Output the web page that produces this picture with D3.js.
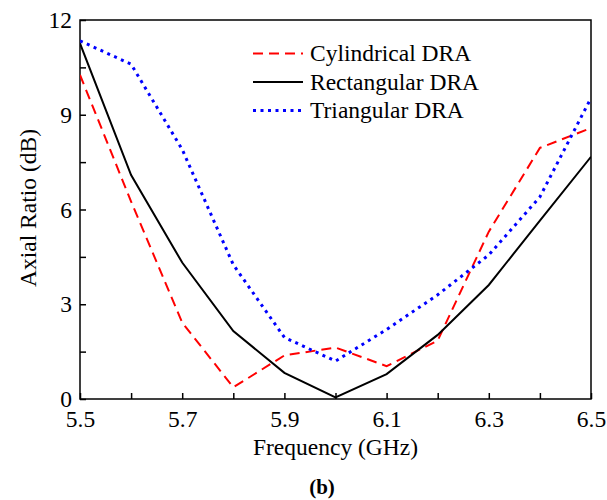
<!DOCTYPE html>
<html><head><meta charset="utf-8">
<script src="https://cdn.jsdelivr.net/npm/d3@7/dist/d3.min.js"></script>
<style>body{margin:0;background:#fff;}svg{display:block;}</style>
</head><body><svg id="c" width="607" height="500"></svg>
<script>
const freqs = [5.5,5.6,5.7,5.8,5.9,6.0,6.1,6.2,6.3,6.4,6.5];
const cylindrical = [10.26,6.25,2.42,0.37,1.38,1.63,1.04,1.85,5.3,7.95,8.58];
const rectangular = [11.26,7.09,4.32,2.15,0.83,0.05,0.79,2.03,3.61,5.65,7.67];
const triangular = [11.34,10.6,7.9,4.25,1.95,1.2,2.2,3.3,4.56,6.4,9.53];
const seriesNames = ["Cylindrical DRA","Rectangular DRA","Triangular DRA"];
const xTicks = [5.5,5.7,5.9,6.1,6.3,6.5];
const yTicks = [0,3,6,9,12];

const svg = d3.select("#c");
const L=80,R=591,T=20,B=399;
const x = d3.scaleLinear().domain([5.5,6.5]).range([L,R]);
const y = d3.scaleLinear().domain([0,12]).range([B,T]);
const font = '"Liberation Serif", "Times New Roman", serif';
const fs = "23.5px";

// frame
svg.append("rect").attr("x",L).attr("y",T).attr("width",R-L).attr("height",B-T)
  .attr("fill","none").attr("stroke","#000").attr("stroke-width",1.5);

// x axis
const xAxis = d3.axisBottom(x).tickValues(d3.range(5.5,6.501,0.1)).tickSize(-6).tickPadding(11)
  .tickFormat(d=> xTicks.some(t=>Math.abs(t-d)<1e-6) ? d3.format(".1f")(d) : "");
const gx = svg.append("g").attr("transform",`translate(0,${B})`).call(xAxis);
gx.select(".domain").remove();
gx.selectAll("line").attr("stroke","#000").attr("stroke-width",1.5);
gx.selectAll("text").style("font-family",font).style("font-size",fs).attr("fill","#000");

const yAxis = d3.axisLeft(y).tickValues(d3.range(0,12.01,1.5)).tickSize(-6).tickPadding(8)
  .tickFormat(d=> yTicks.includes(d) ? d : "");
const gy = svg.append("g").attr("transform",`translate(${L},0)`).call(yAxis);
gy.select(".domain").remove();
gy.selectAll("line").attr("stroke","#000").attr("stroke-width",1.5);
gy.selectAll("text").style("font-family",font).style("font-size",fs).attr("fill","#000");

// titles
svg.append("text").attr("x",(L+R)/2).attr("y",455).attr("text-anchor","middle")
  .style("font-family",font).style("font-size",fs).text("Frequency (GHz)");
svg.append("text").attr("transform","translate(36,208) rotate(-90)").attr("text-anchor","middle")
  .style("font-family",font).style("font-size",fs).text("Axial Ratio (dB)");
svg.append("text").attr("x",322).attr("y",494).attr("text-anchor","middle")
  .style("font-family",font).style("font-size","21px").style("font-weight","bold").text("(b)");

const styles = [
  {data:cylindrical,color:"#ff0000",dash:"10,6",w:2},
  {data:rectangular,color:"#000000",dash:null,w:2},
  {data:triangular,color:"#0000ff",dash:"3,4.5",w:3}
];
const line = d3.line().x((d,i)=>x(freqs[i])).y(d=>y(d));
svg.append("clipPath").attr("id","cp").append("rect").attr("x",L).attr("y",T-2).attr("width",R-L).attr("height",B-T+2);
styles.forEach(s=>{
  svg.append("path").attr("d",line(s.data)).attr("fill","none").attr("stroke",s.color)
    .attr("stroke-width",s.w).attr("stroke-dasharray",s.dash).attr("clip-path","url(#cp)");
});

// legend
const legY=[53.5,82,110.5];
styles.forEach((s,i)=>{
  svg.append("line").attr("x1",253).attr("x2",303).attr("y1",legY[i]).attr("y2",legY[i])
    .attr("stroke",s.color).attr("stroke-width",s.w).attr("stroke-dasharray",s.dash);
  svg.append("text").attr("x",310).attr("y",legY[i]+7.5).style("font-family",font).style("font-size",fs)
    .text(seriesNames[i]);
});
</script></body></html>
